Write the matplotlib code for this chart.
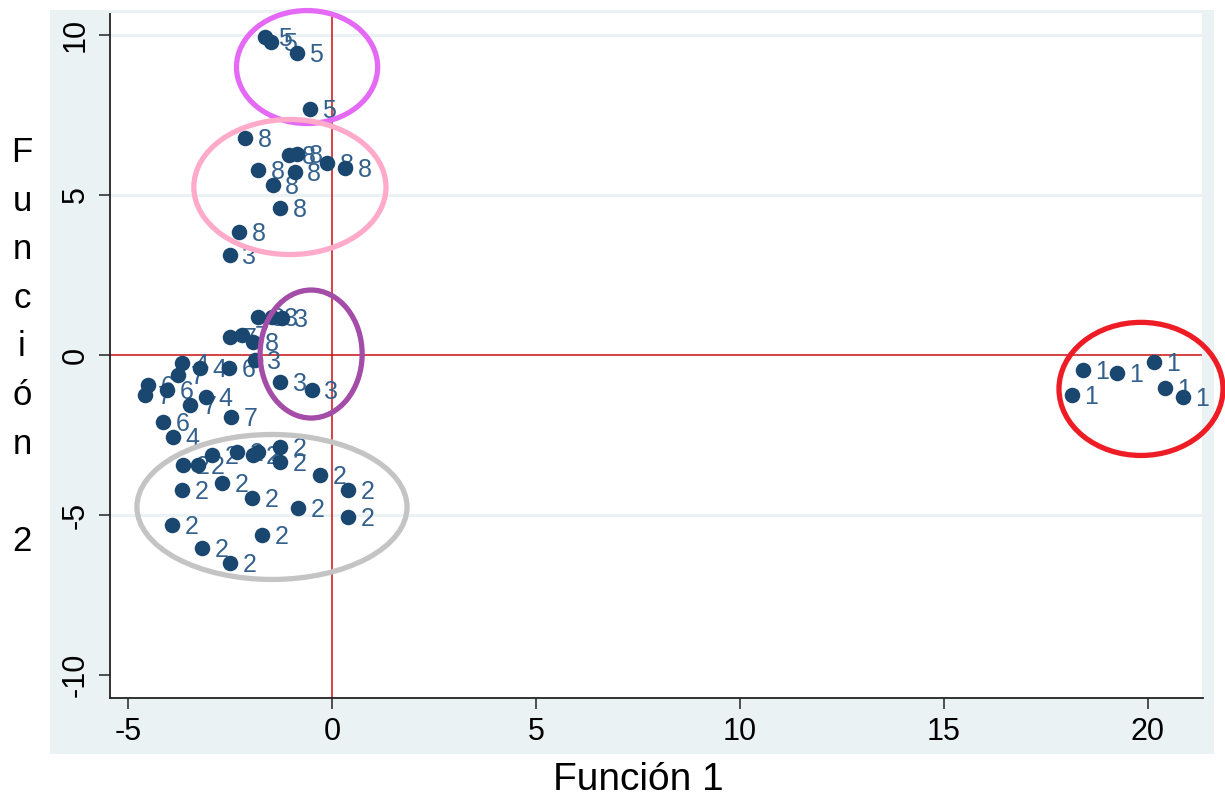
import matplotlib
matplotlib.use("Agg")
import matplotlib.pyplot as plt
from matplotlib.patches import Ellipse, Rectangle

plt.rcParams['font.family'] = ['Liberation Sans', 'DejaVu Sans']

# ---- data: discriminant function scores (Función 1, Función 2) and group labels ----
f1_g1 = [18.41, 18.14, 19.24, 20.15, 20.42, 20.86]
f2_g1 = [-0.47, -1.25, -0.56, -0.22, -1.03, -1.31]

f1_g2 = [-3.65, -3.28, -2.94, -2.33, -1.94, -1.81, -1.27, -1.27, -0.29, 0.39,
         0.39, -0.83, -1.72, -2.50, -3.19, -3.92, -3.68, -2.70, -1.96]
f2_g2 = [-3.44, -3.44, -3.13, -3.03, -3.13, -3.03, -2.88, -3.34, -3.75, -4.22,
         -5.06, -4.78, -5.63, -6.50, -6.03, -5.31, -4.22, -4.00, -4.47]

f1_g3 = [-2.50, -1.81, -1.47, -1.23, -1.89, -1.27, -0.49]
f2_g3 = [3.13, 1.19, 1.19, 1.16, -0.16, -0.84, -1.09]

f1_g4 = [-3.68, -3.24, -3.09, -3.90]
f2_g4 = [-0.25, -0.41, -1.31, -2.56]

f1_g5 = [-1.64, -1.50, -0.86, -0.54]
f2_g5 = [9.94, 9.78, 9.44, 7.69]

f1_g6 = [-2.52, -4.51, -4.04, -4.14]
f2_g6 = [-0.41, -0.94, -1.09, -2.09]

f1_g7 = [-2.50, -2.21, -3.77, -4.58, -3.48, -2.48]
f2_g7 = [0.56, 0.63, -0.63, -1.25, -1.56, -1.94]

f1_g8 = [-2.13, -1.05, -0.86, -0.12, 0.32, -1.81, -0.91, -1.45, -1.27, -2.28, -1.94]
f2_g8 = [6.78, 6.25, 6.28, 6.00, 5.84, 5.78, 5.72, 5.31, 4.59, 3.84, 0.41]

groups = [("1", f1_g1, f2_g1), ("2", f1_g2, f2_g2), ("3", f1_g3, f2_g3),
          ("4", f1_g4, f2_g4), ("5", f1_g5, f2_g5), ("6", f1_g6, f2_g6),
          ("7", f1_g7, f2_g7), ("8", f1_g8, f2_g8)]

x_ticks = [-5, 0, 5, 10, 15, 20]
y_ticks = [-10, -5, 0, 5, 10]
grid_y = [-5, 5, 10]

# highlighted group outlines: (centre x, centre y, width, height, colour)
outlines = [(-0.61, 9.00, 3.46, 3.53, '#E46AF5'),
            (-1.03, 5.25, 4.71, 4.22, '#FFAAC8'),
            (-0.51, 0.03, 2.50, 4.00, '#A34CA8'),
            (-1.47, -4.75, 6.62, 4.53, '#C4C4C4'),
            (19.83, -1.06, 4.02, 4.16, '#EE1C24')]

# ---- figure ----
W, H = 1225, 801
fig = plt.figure(figsize=(W / 100, H / 100), dpi=100)
fig.patches.append(Rectangle((50 / W, 1 - 754 / H), (1214 - 50) / W, (754 - 10) / H,
                             transform=fig.transFigure, facecolor='#EAF2F3',
                             edgecolor='none', zorder=-10))

ax = fig.add_axes([110 / W, 1 - 698 / H, (1203 - 110) / W, (698 - 12) / H])
ax.set_facecolor('white')
ax.set_xlim(-5.44, 21.35)
ax.set_ylim(-10.72, 10.72)

for gy in grid_y:
    ax.axhline(gy, color='#EAF2F3', lw=2.2, zorder=1)
ax.axhline(0, color='#CC1010', lw=1.1, zorder=2)
ax.axvline(0, color='#CC1010', lw=1.1, zorder=2)

marker_c = '#1A476F'
label_c = '#33608C'
for lab, xs, ys in groups:
    ax.scatter(xs, ys, s=125, color=marker_c, zorder=4, linewidths=0)
    for x, y in zip(xs, ys):
        ax.annotate(lab, (x, y), xytext=(9, -1.5), textcoords='offset points',
                    ha='left', va='center', fontsize=18, color=label_c, zorder=3)

for cx, cy, w, h, c in outlines:
    ax.add_patch(Ellipse((cx, cy), w, h, fill=False, edgecolor=c, lw=3.8,
                         zorder=5, clip_on=False))

ax.set_xticks(x_ticks)
ax.set_yticks(y_ticks)
ax.set_xticklabels([str(v) for v in x_ticks], fontsize=22)
ax.set_yticklabels([str(v) for v in y_ticks], fontsize=22, rotation=90, va='center')
ax.tick_params(axis='both', direction='out', length=8, width=1.2, color='#333333', pad=6)

for s in ['left', 'bottom']:
    ax.spines[s].set_color('#222222')
    ax.spines[s].set_linewidth(1.3)
for s in ['top', 'right']:
    ax.spines[s].set_color('#EAF2F3')
    ax.spines[s].set_linewidth(1.5)

fig.text(638 / W, 1 - 780 / H, 'Función 1', ha='center', va='center', fontsize=28)
fig.text(22 / W, 1 - 347 / H, 'F\nu\nn\nc\ni\nó\nn\n\n2', ha='center', va='center',
         fontsize=25, linespacing=1.6, multialignment='center')

fig.savefig('out.png', dpi=100)
